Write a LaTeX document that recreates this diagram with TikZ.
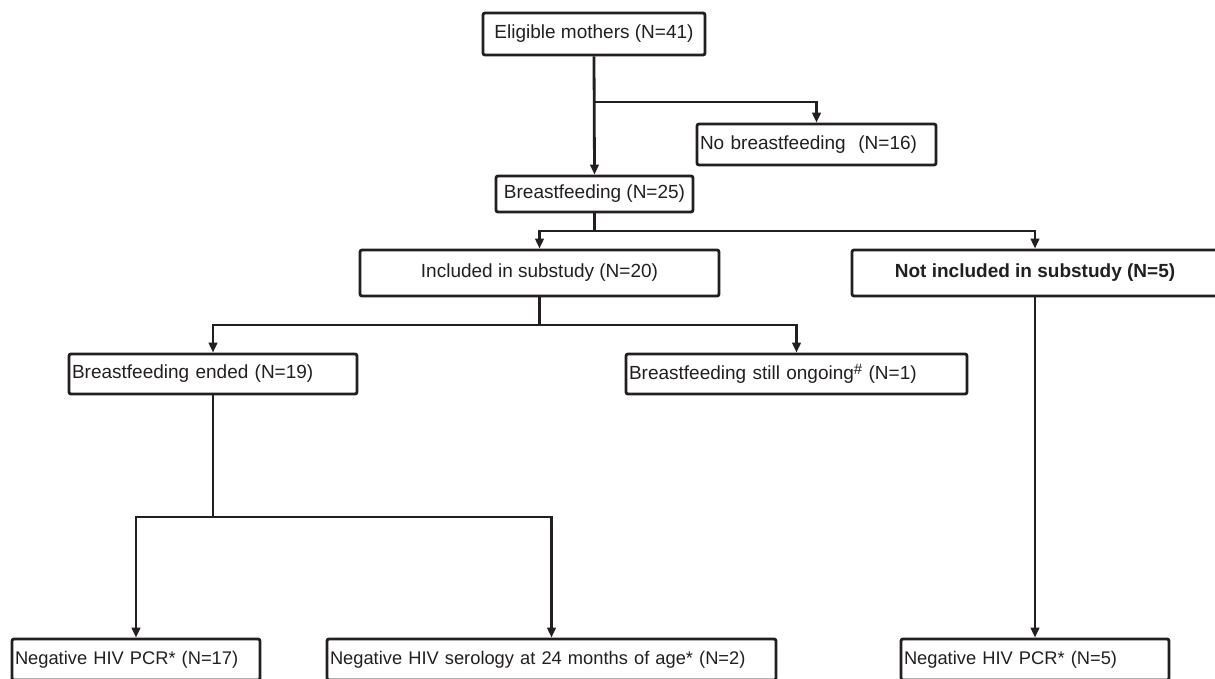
\documentclass[tikz,border=0pt]{standalone}
\usepackage{fontspec}
\setmainfont{Liberation Sans}
\usetikzlibrary{arrows.meta}
\definecolor{ink}{HTML}{231F20}
\begin{document}
\begin{tikzpicture}[x=1pt,y=-1pt,
  box/.style={draw=ink, line width=2.8pt, rounded corners=2pt, inner ysep=0pt,
    font=\fontsize{19}{22}\selectfont, text=ink},
  cbox/.style={box, inner xsep=0pt, align=center},
  lbox/.style={box, inner xsep=3pt, align=left},
  sbox/.style={lbox, font=\fontsize{18.3}{22}\selectfont},
  link/.style={draw=ink, line width=2.8pt},
  arr/.style={link, -{Triangle[length=10pt,width=8.5pt]}}]
\clip (0,0) rectangle (1215,678);
\fill[white] (0,0) rectangle (1215,678);

\node[cbox, minimum width=222pt, minimum height=42pt] (elig) at (594,34) {Eligible mothers (N=41)};
\node[lbox, text width=233pt, minimum height=41pt] (nobf) at (816.5,144.5) {No breastfeeding\ \ (N=16)};
\node[cbox, minimum width=197pt, minimum height=36pt] (bf) at (594.5,194) {Breastfeeding (N=25)};
\node[cbox, minimum width=359pt, minimum height=46pt] (incl) at (539.5,273) {Included in substudy (N=20)};
\node[cbox, minimum width=366pt, minimum height=46pt] (notincl) at (1035,273) {\bfseries Not included in substudy (N=5)};
\node[lbox, text width=282pt, minimum height=40pt] (ended) at (213,374) {Breastfeeding ended (N=19)};
\node[lbox, text width=335pt, minimum height=40pt] (ongoing) at (796.5,374) {Breastfeeding still ongoing\raisebox{0.55ex}{\fontsize{15}{15}\selectfont\#} (N=1)};
\node[sbox, text width=242pt, minimum height=41pt] (pcra) at (136,659.5) {Negative HIV PCR* (N=17)};
\node[sbox, text width=443pt, minimum height=41pt] (sero) at (551.5,659.5) {Negative HIV serology at 24 months of age* (N=2)};
\node[sbox, text width=262pt, minimum height=41pt] (pcrb) at (1035,659.5) {Negative HIV PCR* (N=5)};

\coordinate (j1) at (594,102);
\coordinate (j2) at (594.5,231);
\coordinate (j3) at (539.5,325);
\coordinate (j4) at (213,517);

\draw[arr] (elig.south) -- (bf.north);
\draw[arr] (j1) -| (nobf.north);
\draw[link] (bf.south) -- (j2);
\draw[arr] (j2) -| (incl.north);
\draw[arr] (j2) -| (notincl.north);
\draw[link] (incl.south) -- (j3);
\draw[arr] (j3) -| (ended.north);
\draw[arr] (j3) -| (ongoing.north);
\draw[link] (ended.south) -- (j4);
\draw[arr] (j4) -| (pcra.north);
\draw[arr] (j4) -| (sero.north);
\draw[arr] (notincl.south) -- (pcrb.north);
\end{tikzpicture}
\end{document}
